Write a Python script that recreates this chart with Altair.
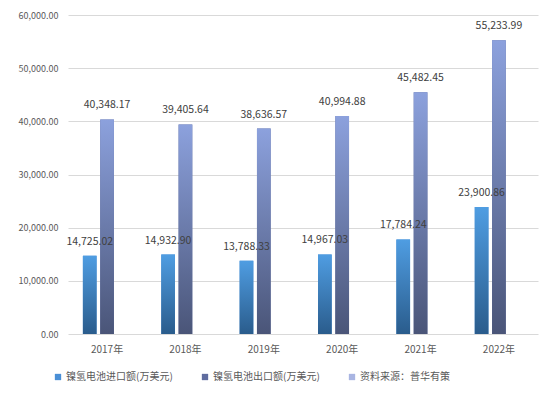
import altair as alt
import pandas as pd

years = ["2017年", "2018年", "2019年", "2020年", "2021年", "2022年"]
imports = [14725.02, 14932.90, 13788.33, 14967.03, 17784.24, 23900.86]
exports = [40348.17, 39405.64, 38636.57, 40994.88, 45482.45, 55233.99]
series = ["镍氢电池进口额(万美元)", "镍氢电池出口额(万美元)", "资料来源：普华有策"]
legend_colors = ["#4A8FD6", "#5F6C9F", "#A9B5E2"]
y_ticks = [0, 10000, 20000, 30000, 40000, 50000, 60000]

rows = []
for yr, a, b in zip(years, imports, exports):
    rows.append({"year": yr, "series": series[0], "value": a})
    rows.append({"year": yr, "series": series[1], "value": b})
df = pd.DataFrame(rows)

FONT = "Noto Sans CJK SC"

x = alt.X(
    "year:N", sort=years, title=None,
    scale=alt.Scale(domain=years, paddingInner=0.383, paddingOuter=0.19),
    axis=alt.Axis(labelAngle=0, ticks=False, domain=False, labelPadding=10,
                  labelFontSize=10, labelColor="#595959", labelFont=FONT, grid=False),
)
xo = alt.XOffset("series:N", scale=alt.Scale(domain=series, paddingInner=0.21, paddingOuter=0))
y = alt.Y(
    "value:Q", title=None,
    scale=alt.Scale(domain=[0, 60000], nice=False),
    axis=alt.Axis(values=y_ticks, format=",.2f", ticks=False, domain=False,
                  labelPadding=10, labelFontSize=9, labelColor="#595959", labelFont=FONT,
                  grid=True, gridColor="#D9D9D9", gridWidth=1),
)

base = alt.Chart(df).encode(x=x, xOffset=xo, y=y)

legend_layer = base.mark_bar().encode(
    color=alt.Color(
        "series:N",
        scale=alt.Scale(domain=series, range=legend_colors),
        legend=alt.Legend(
            title=None, orient="none", direction="horizontal",
            legendX=-15, legendY=357, symbolType="square", symbolSize=40,
            symbolStrokeWidth=0, labelFontSize=10, labelColor="#595959",
            labelFont=FONT, columnPadding=27, labelOffset=3,
        ),
    )
)

grad_imp = alt.Gradient(
    gradient="linear", x1=0, x2=0, y1=0, y2=1,
    stops=[alt.GradientStop(color="#4F9DE2", offset=0),
           alt.GradientStop(color="#2A5C8C", offset=1)],
)
grad_exp = alt.Gradient(
    gradient="linear", x1=0, x2=0, y1=0, y2=1,
    stops=[alt.GradientStop(color="#8CA1DD", offset=0),
           alt.GradientStop(color="#4A5578", offset=1)],
)

imp_layer = base.transform_filter(alt.datum.series == series[0]).mark_bar(color=grad_imp)
exp_layer = base.transform_filter(alt.datum.series == series[1]).mark_bar(color=grad_exp)

labels = base.mark_text(dy=-14, fontSize=10.5, color="#404040", font=FONT).encode(
    text=alt.Text("value:Q", format=",.2f")
)

chart = (
    alt.layer(legend_layer, imp_layer, exp_layer, labels)
    .properties(
        width=470, height=319,
        autosize=alt.AutoSizeParams(type="none"),
        padding={"left": 60, "top": 7, "right": 8, "bottom": 56},
        background="white",
    )
    .configure_view(stroke=None)
)

chart.save("out.html", embed_options={"renderer": "svg", "actions": False})
